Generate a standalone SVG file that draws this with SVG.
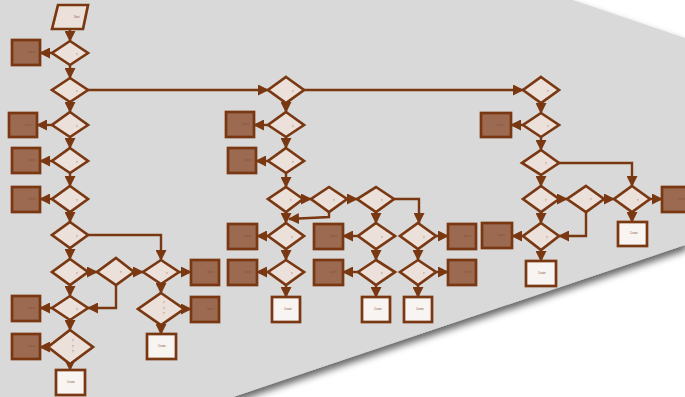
<svg xmlns="http://www.w3.org/2000/svg" width="685" height="397" viewBox="0 0 685 397">
<style>
.d{fill:#ebe0da;stroke:#7a3812;stroke-width:2.7;stroke-linejoin:miter}
.b{fill:#9c6a51;stroke:#7a3812;stroke-width:2.7}
.e{fill:#f8f4f2;stroke:#7a3812;stroke-width:2.7}
.c{fill:none;stroke:#7a3812;stroke-width:2.4;marker-end:url(#ah)}
text{font-family:"Liberation Sans",Arial,sans-serif;font-size:2.6px;fill:#8a5238}
</style>
<defs>
<marker id="ah" markerUnits="userSpaceOnUse" markerWidth="11" markerHeight="11" refX="10" refY="5.5" orient="auto">
<path d="M0,0 L11,5.5 L0,11 z" fill="#7a3812"/>
</marker>
<filter id="sh" x="-10%" y="-10%" width="130%" height="130%">
<feGaussianBlur in="SourceAlpha" stdDeviation="3.5"/>
<feOffset dx="2" dy="5" result="o"/>
<feComponentTransfer><feFuncA type="linear" slope="0.6"/></feComponentTransfer>
<feMerge><feMergeNode/><feMergeNode in="SourceGraphic"/></feMerge>
</filter>
</defs>
<rect width="685" height="397" fill="#ffffff"/>
<polygon points="0,0 573,0 685,38 685,245 233,397 0,397" fill="#d9d9d9" filter="url(#sh)"/>

<g id="connectors">
<path class="c" d="M70,29 L70,41"/>
<path class="c" d="M53,53 L40,53"/>
<path class="c" d="M70,65 L70,78"/>
<path class="c" d="M88,90 L268,90"/>
<path class="c" d="M70,102 L70,112"/>
<path class="c" d="M53,125 L37,125"/>
<path class="c" d="M70,137 L70,148"/>
<path class="c" d="M52,161 L40,161"/>
<path class="c" d="M70,173 L70,186"/>
<path class="c" d="M52,199 L40,199"/>
<path class="c" d="M70,212 L70,222"/>
<path class="c" d="M88,235 L161,235 L161,260"/>
<path class="c" d="M70,248 L70,259"/>
<path class="c" d="M88,272 L97,272"/>
<path class="c" d="M134,272 L143,272"/>
<path class="c" d="M179,272 L191,272"/>
<path class="c" d="M116,285 L116,308 L88,308"/>
<path class="c" d="M70,285 L70,296"/>
<path class="c" d="M52,308 L40,308"/>
<path class="c" d="M70,320 L70,330"/>
<path class="c" d="M48,347 L40,347"/>
<path class="c" d="M70,364 L70,370"/>
<path class="c" d="M161,284 L161,293"/>
<path class="c" d="M184,309 L191,309"/>
<path class="c" d="M161,325 L161,334"/>

<path class="c" d="M303,90 L523,90"/>
<path class="c" d="M286,103 L286,112"/>
<path class="c" d="M268,125 L254,125"/>
<path class="c" d="M286,137 L286,148"/>
<path class="c" d="M268,161 L256,161"/>
<path class="c" d="M286,173 L286,187"/>
<path class="c" d="M303,199 L311,199"/>
<path class="c" d="M347,199 L357,199"/>
<path class="c" d="M394,199 L419,199 L419,223"/>
<path class="c" d="M286,212 L286,223"/>
<path class="c" d="M329,212 L329,217 L289,219"/>
<path class="c" d="M376,212 L376,223"/>
<path class="c" d="M268,236 L257,236"/>
<path class="c" d="M286,249 L286,260"/>
<path class="c" d="M268,272 L257,272"/>
<path class="c" d="M286,285 L286,297"/>
<path class="c" d="M358,236 L343,236"/>
<path class="c" d="M376,249 L376,260"/>
<path class="c" d="M358,272 L343,272"/>
<path class="c" d="M376,285 L376,297"/>
<path class="c" d="M436,236 L448,236"/>
<path class="c" d="M418,249 L418,260"/>
<path class="c" d="M436,272 L448,272"/>
<path class="c" d="M418,285 L418,297"/>

<path class="c" d="M541,103 L541,113"/>
<path class="c" d="M523,125 L511,125"/>
<path class="c" d="M541,137 L541,150"/>
<path class="c" d="M559,163 L632,163 L632,186"/>
<path class="c" d="M541,175 L541,186"/>
<path class="c" d="M559,199 L567,199"/>
<path class="c" d="M604,199 L614,199"/>
<path class="c" d="M650,199 L662,199"/>
<path class="c" d="M632,212 L632,222"/>
<path class="c" d="M541,212 L541,223"/>
<path class="c" d="M586,212 L586,236 L559,236"/>
<path class="c" d="M523,236 L512,236"/>
<path class="c" d="M541,250 L541,261"/>
</g>

<g id="start"><polygon points="52,29 58,5 88,5 83,29" class="d"/><text x="74" y="18">Start</text></g>

<g id="n1"><polygon class="d" points="70,41 88,53 70,65 52,53"/><text x="76" y="56">?</text></g>
<g id="n2"><polygon class="d" points="70,78 88,90 70,102 52,90"/><text x="76" y="93">?</text></g>
<g id="n3"><polygon class="d" points="70,112 88,125 70,137 52,125"/><text x="76" y="128">?</text></g>
<g id="n4"><polygon class="d" points="70,148 88,161 70,173 52,161"/><text x="76" y="164">?</text></g>
<g id="n5"><polygon class="d" points="70,186 88,199 70,212 52,199"/><text x="76" y="202">?</text></g>
<g id="n6"><polygon class="d" points="70,222 88,235 70,248 52,235"/><text x="76" y="238">?</text></g>
<g id="n7"><polygon class="d" points="70,259 88,272 70,285 52,272"/><text x="76" y="275">?</text></g>
<g id="n8"><polygon class="d" points="116,258 134,272 116,285 97,272"/><text x="120" y="274">?</text></g>
<g id="n9"><polygon class="d" points="161,260 179,272 161,284 143,272"/><text x="166" y="275">?</text></g>
<g id="n10"><polygon class="d" points="70,296 88,308 70,320 52,308"/><text x="76" y="311">?</text></g>
<g id="n11"><polygon class="d" points="161,293 184,309 161,325 138,309"/><text x="163" y="304">?</text><text x="163" y="310">?</text><text x="163" y="315">?</text></g>
<g id="n12"><polygon class="d" points="70,330 93,347 70,364 48,347"/><text x="72" y="342">?</text><text x="72" y="348">?</text><text x="72" y="353">?</text></g>

<g id="b1"><rect class="b" x="12" y="40" width="28" height="25"/><text x="28" y="53">Ignore</text></g>
<g id="b3"><rect class="b" x="9" y="113" width="28" height="24"/><text x="25" y="126">Ignore</text></g>
<g id="b4"><rect class="b" x="12" y="148" width="28" height="25"/><text x="28" y="161">Ignore</text></g>
<g id="b5"><rect class="b" x="12" y="187" width="28" height="25"/><text x="28" y="200">Ignore</text></g>
<g id="b9"><rect class="b" x="191" y="260" width="28" height="25"/><text x="207" y="273">Ignore</text></g>
<g id="b10"><rect class="b" x="12" y="296" width="28" height="25"/><text x="28" y="309">Ignore</text></g>
<g id="b11"><rect class="b" x="191" y="297" width="28" height="25"/><text x="207" y="310">Ignore</text></g>
<g id="b12"><rect class="b" x="12" y="334" width="28" height="25"/><text x="28" y="347">Ignore</text></g>
<g id="e11"><rect class="e" x="147" y="334" width="29" height="25"/><text x="158" y="347">Create</text></g>
<g id="e12"><rect class="e" x="56" y="370" width="29" height="25"/><text x="67" y="383">Create</text></g>

<g id="nA"><polygon class="d" points="286,77 304,90 286,103 268,90"/><text x="292" y="93">?</text></g>
<g id="nB"><polygon class="d" points="286,112 304,125 286,137 268,125"/><text x="292" y="128">?</text></g>
<g id="nC"><polygon class="d" points="286,148 304,161 286,173 268,161"/><text x="292" y="164">?</text></g>
<g id="nD"><polygon class="d" points="286,187 303,199 286,212 268,199"/><text x="290" y="202">?</text></g>
<g id="nE"><polygon class="d" points="329,187 347,199 329,212 311,199"/><text x="333" y="202">?</text></g>
<g id="nF"><polygon class="d" points="376,187 394,199 376,212 357,199"/><text x="381" y="202">?</text></g>
<g id="nG"><polygon class="d" points="286,223 304,236 286,249 268,236"/><text x="291" y="239">?</text></g>
<g id="nI"><polygon class="d" points="286,260 304,272 286,285 268,272"/><text x="291" y="275">?</text></g>
<g id="nJ"><polygon class="d" points="376,223 395,236 376,249 358,236"/><text x="381" y="239">?</text></g>
<g id="nK"><polygon class="d" points="376,260 395,272 376,285 358,272"/><text x="381" y="275">?</text></g>
<g id="nH"><polygon class="d" points="418,223 436,236 418,249 400,236"/><text x="423" y="239">?</text></g>
<g id="nL"><polygon class="d" points="418,260 436,272 418,285 400,272"/><text x="423" y="275">?</text></g>

<g id="bB"><rect class="b" x="226" y="112" width="28" height="25"/><text x="242" y="125">Ignore</text></g>
<g id="bC"><rect class="b" x="228" y="148" width="28" height="25"/><text x="244" y="161">Ignore</text></g>
<g id="bG"><rect class="b" x="228" y="224" width="29" height="25"/><text x="244" y="237">Ignore</text></g>
<g id="bI"><rect class="b" x="228" y="260" width="29" height="25"/><text x="244" y="273">Ignore</text></g>
<g id="bJ"><rect class="b" x="314" y="224" width="29" height="25"/><text x="330" y="237">Ignore</text></g>
<g id="bK"><rect class="b" x="314" y="260" width="29" height="25"/><text x="330" y="273">Ignore</text></g>
<g id="bH"><rect class="b" x="448" y="224" width="28" height="25"/><text x="464" y="237">Ignore</text></g>
<g id="bL"><rect class="b" x="448" y="260" width="28" height="25"/><text x="464" y="273">Ignore</text></g>
<g id="eI"><rect class="e" x="272" y="297" width="28" height="25"/><text x="284" y="310">Create</text></g>
<g id="eK"><rect class="e" x="362" y="297" width="28" height="25"/><text x="374" y="310">Create</text></g>
<g id="eL"><rect class="e" x="404" y="297" width="28" height="25"/><text x="416" y="310">Create</text></g>

<g id="nP"><polygon class="d" points="541,77 559,90 541,103 523,90"/><text x="547" y="93">?</text></g>
<g id="nQ"><polygon class="d" points="541,113 559,125 541,137 523,125"/><text x="547" y="128">?</text></g>
<g id="nR"><polygon class="d" points="541,150 559,163 541,175 522,163"/><text x="545" y="165">?</text></g>
<g id="nS"><polygon class="d" points="541,186 559,199 541,212 523,199"/><text x="545" y="202">?</text></g>
<g id="nU"><polygon class="d" points="586,186 604,199 586,212 567,199"/><text x="590" y="201">?</text></g>
<g id="nT"><polygon class="d" points="632,186 650,199 632,212 614,199"/><text x="637" y="202">?</text></g>
<g id="nV"><polygon class="d" points="541,223 559,236 541,250 523,236"/><text x="546" y="239">?</text></g>

<g id="bQ"><rect class="b" x="481" y="113" width="30" height="24"/><text x="497" y="126">Ignore</text></g>
<g id="bT"><rect class="b" x="662" y="187" width="28" height="25"/><text x="678" y="200">Ignore</text></g>
<g id="bV"><rect class="b" x="482" y="223" width="30" height="25"/><text x="498" y="236">Ignore</text></g>
<g id="eT"><rect class="e" x="618" y="222" width="29" height="24"/><text x="630" y="234">Create</text></g>
<g id="eV"><rect class="e" x="526" y="261" width="30" height="25"/><text x="538" y="274">Create</text></g>
</svg>
